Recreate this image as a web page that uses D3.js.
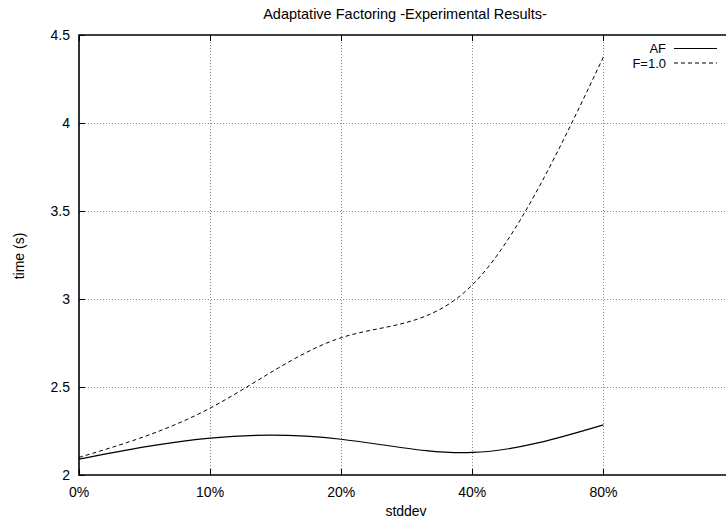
<!DOCTYPE html>
<html>
<head>
<meta charset="utf-8">
<script src="https://cdn.jsdelivr.net/npm/d3@7"></script>
<style>
  body { margin: 0; background: #fff; }
  text { font-family: "Liberation Sans", Arial, sans-serif; fill: #000; }
</style>
</head>
<body>
<div id="chart"></div>
<script>
var width = 726,
    height = 519;

// stddev categories, evenly spaced along the axis
var categories = ["0%", "10%", "20%", "40%", "80%"];
var afTimes = [2.09, 2.21, 2.203, 2.128, 2.285];
var f10Times = [2.10, 2.38, 2.78, 3.08, 4.375];
var yTicks = [2, 2.5, 3, 3.5, 4, 4.5];

var margin = { left: 79, top: 35, bottom: 44 };
var step = 131.1;

var x = d3.scaleLinear()
    .domain([0, 5])
    .range([margin.left, margin.left + 5 * step]);

var y = d3.scaleLinear()
    .domain([2, 4.5])
    .range([height - margin.bottom, margin.top]);

var svg = d3.select("#chart").append("svg")
    .attr("width", width)
    .attr("height", height);

// grid
var grid = svg.append("g")
    .attr("stroke", "#888")
    .attr("stroke-width", 1)
    .attr("stroke-dasharray", "1,2");

grid.selectAll(".gx")
    .data(categories.slice(1))
    .enter().append("line")
    .attr("x1", function (d, i) { return Math.round(x(i + 1)) + 0.5; })
    .attr("x2", function (d, i) { return Math.round(x(i + 1)) + 0.5; })
    .attr("y1", y(2))
    .attr("y2", y(4.5));

grid.selectAll(".gy")
    .data(yTicks.slice(1, -1))
    .enter().append("line")
    .attr("x1", x(0))
    .attr("x2", x(5))
    .attr("y1", function (d) { return Math.round(y(d)) + 0.5; })
    .attr("y2", function (d) { return Math.round(y(d)) + 0.5; });

// tick marks (gnuplot style, inside the border)
var ticks = svg.append("g").attr("stroke", "#000").attr("stroke-width", 1);
categories.forEach(function (c, i) {
    var px = Math.round(x(i)) + 0.5;
    ticks.append("line").attr("x1", px).attr("x2", px).attr("y1", y(2)).attr("y2", y(2) - 6);
    ticks.append("line").attr("x1", px).attr("x2", px).attr("y1", y(4.5)).attr("y2", y(4.5) + 6);
});
yTicks.forEach(function (v) {
    var py = Math.round(y(v)) + 0.5;
    ticks.append("line").attr("x1", x(0)).attr("x2", x(0) + 6).attr("y1", py).attr("y2", py);
});

// border
svg.append("path")
    .attr("d", "M" + x(5) + "," + y(4.5) + "H" + x(0) + "V" + y(2) + "H" + x(5))
    .attr("fill", "none")
    .attr("stroke", "#000")
    .attr("stroke-width", 1.6);

// tick labels
svg.selectAll(".xl")
    .data(categories)
    .enter().append("text")
    .attr("x", function (d, i) { return x(i); })
    .attr("y", 497)
    .attr("text-anchor", "middle")
    .attr("font-size", "14px")
    .text(function (d) { return d; });

svg.selectAll(".yl")
    .data(yTicks)
    .enter().append("text")
    .attr("x", 70)
    .attr("y", function (d) { return y(d) + 5; })
    .attr("text-anchor", "end")
    .attr("font-size", "14px")
    .text(function (d) { return d; });

// titles
svg.append("text")
    .attr("x", 405)
    .attr("y", 19)
    .attr("text-anchor", "middle")
    .attr("font-size", "14.5px")
    .text("Adaptative Factoring -Experimental Results-");

svg.append("text")
    .attr("x", 406)
    .attr("y", 516)
    .attr("text-anchor", "middle")
    .attr("font-size", "14px")
    .text("stddev");

svg.append("text")
    .attr("transform", "translate(24,256) rotate(-90)")
    .attr("text-anchor", "middle")
    .attr("font-size", "14px")
    .text("time (s)");

// curves (cubic splines like gnuplot csplines)
var line = d3.line()
    .x(function (d, i) { return x(i); })
    .y(function (d) { return y(d); })
    .curve(d3.curveNatural);

svg.append("path")
    .datum(afTimes)
    .attr("d", line)
    .attr("fill", "none")
    .attr("stroke", "#000")
    .attr("stroke-width", 1.2);

svg.append("path")
    .datum(f10Times)
    .attr("d", line)
    .attr("fill", "none")
    .attr("stroke", "#000")
    .attr("stroke-width", 1)
    .attr("stroke-dasharray", "4,3");

// legend
var legend = [{ name: "AF", dash: null, w: 1.2 }, { name: "F=1.0", dash: "4,3", w: 1 }];
legend.forEach(function (l, i) {
    var ly = 48.5 + i * 14.5;
    svg.append("text")
        .attr("x", 666)
        .attr("y", ly + 4.5)
        .attr("text-anchor", "end")
        .attr("font-size", "13px")
        .text(l.name);
    svg.append("line")
        .attr("x1", 674).attr("x2", 717)
        .attr("y1", ly).attr("y2", ly)
        .attr("stroke", "#000")
        .attr("stroke-width", l.w)
        .attr("stroke-dasharray", l.dash);
});
</script>
</body>
</html>
